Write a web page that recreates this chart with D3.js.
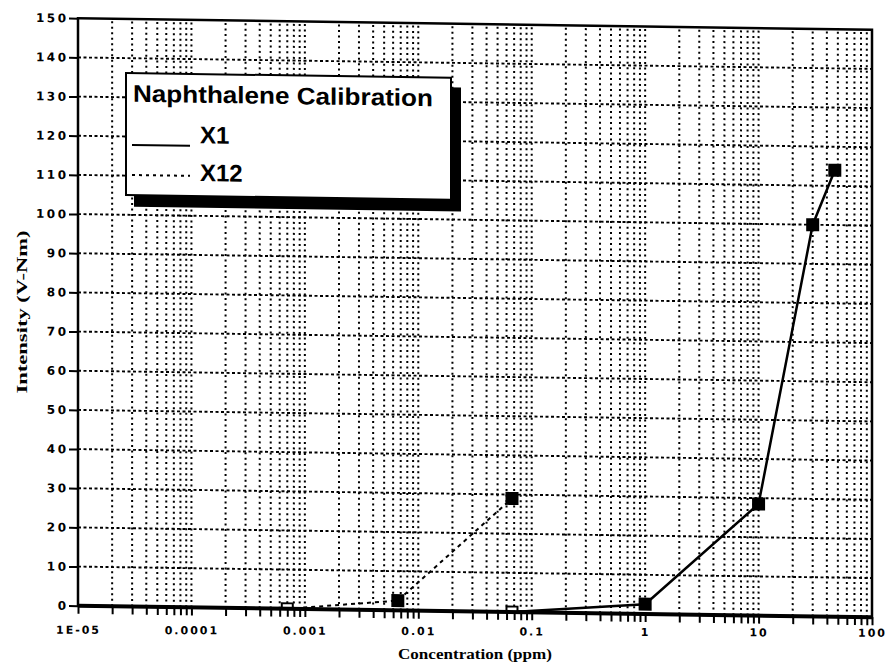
<!DOCTYPE html>
<html>
<head>
<meta charset="utf-8">
<script src="https://cdn.jsdelivr.net/npm/d3@7/dist/d3.min.js"></script>
<style>
  html, body { margin: 0; padding: 0; background: #fff; }
  svg { display: block; }
</style>
</head>
<body>
<svg id="chart" width="888" height="669"></svg>
<script>
// ---- data ----
const xDecades = [1e-5, 1e-4, 1e-3, 1e-2, 1e-1, 1, 10, 100];
const xTickLabels = ["1E-05", "0.0001", "0.001", "0.01", "0.1", "1", "10", "100"];
const yTicks = [0, 10, 20, 30, 40, 50, 60, 70, 80, 90, 100, 110, 120, 130, 140, 150];
const seriesNames = ["X1", "X12"];
const x1Conc = [0.067, 1, 10, 30, 47];
const x1Int = [0, 2.5, 28.5, 100, 114];
const x12Conc = [0.0007, 0.0066, 0.067];
const x12Int = [0, 2.5, 29];
const legendTitle = "Naphthalene Calibration";
const xTitle = "Concentration (ppm)";
const yTitle = "Intensity (V-Nm)";

// ---- layout ----
const L = 78, R = 872, T = 18.25, B = 605.75;
const k = 0.0145;      // scan skew of the plot frame
const k2 = 0.0038;     // skew of the x tick labels row

const svg = d3.select("#chart");
svg.append("rect").attr("width", 888).attr("height", 669).attr("fill", "#fff");

const x = d3.scaleLog().domain([xDecades[0], xDecades[xDecades.length - 1]]).range([L, R]);
const y = d3.scaleLinear().domain([yTicks[0], yTicks[yTicks.length - 1]]).range([B, T]);

svg.append("defs").append("clipPath").attr("id", "plotclip")
  .append("rect").attr("x", L - 10).attr("y", T - 10).attr("width", R - L + 20).attr("height", B - T + 10);

const g = svg.append("g").attr("transform", `matrix(1,${k},0,1,0,${-L * k})`);

// grid
const xt = x.ticks();
const xGrid = xt.filter(d => d > x.domain()[0] * 1.0001 && d < x.domain()[1] * 0.9999);
g.append("g").selectAll("line").data(xGrid).join("line")
  .attr("x1", d => x(d)).attr("x2", d => x(d))
  .attr("y1", y(0)).attr("y2", y(150))
  .attr("stroke", "#000").attr("stroke-width", 2)
  .attr("stroke-dasharray", "2,3.5");
g.append("g").selectAll("line").data(yTicks.slice(1, -1)).join("line")
  .attr("x1", L).attr("x2", R)
  .attr("y1", d => y(d)).attr("y2", d => y(d))
  .attr("stroke", "#000").attr("stroke-width", 1.9)
  .attr("stroke-dasharray", "3,2.5");

// series
const s1 = x1Conc.map((c, i) => ({ c, v: x1Int[i] }));
const s12 = x12Conc.map((c, i) => ({ c, v: x12Int[i] }));
const line = d3.line().x(d => x(d.c)).y(d => y(d.v));

g.append("path").datum(s12).attr("d", line)
  .attr("fill", "none").attr("stroke", "#000").attr("stroke-width", 2)
  .attr("stroke-dasharray", "4,4");
g.append("path").datum(s1).attr("d", line)
  .attr("fill", "none").attr("stroke", "#000").attr("stroke-width", 2.5);

const ms = 11;
g.append("g").attr("clip-path", "url(#plotclip)")
  .selectAll("rect").data(s1.concat(s12)).join("rect")
  .attr("x", d => x(d.c) - ms / 2).attr("y", d => y(d.v) - ms / 2)
  .attr("width", ms).attr("height", ms)
  .attr("fill", d => d.v === 0 ? "#fff" : "#000")
  .attr("stroke", "#000").attr("stroke-width", 2);

// axes ticks
g.append("g").attr("transform", `translate(0,${y(0)})`)
  .call(d3.axisBottom(x).tickValues(xt).tickSize(8).tickFormat(""))
  .call(a => a.select(".domain").remove())
  .call(a => a.selectAll("line").attr("stroke-width", 2));

g.append("g").attr("transform", `translate(${L},0)`)
  .call(d3.axisLeft(y).tickValues(yTicks).tickSize(9).tickPadding(3))
  .call(a => a.select(".domain").remove())
  .call(a => a.selectAll("line").attr("stroke-width", 2))
  .call(a => a.selectAll("text")
    .attr("font-family", "DejaVu Sans").attr("font-weight", "bold")
    .attr("font-size", 12).attr("letter-spacing", 2.5).attr("fill", "#000")
    .attr("dx", 2.5));

// frame
g.append("rect").attr("x", L).attr("y", T).attr("width", R - L).attr("height", B - T)
  .attr("fill", "none").attr("stroke", "#000").attr("stroke-width", 2.5);
g.append("line").attr("x1", L).attr("x2", R).attr("y1", y(0)).attr("y2", y(0))
  .attr("stroke", "#000").attr("stroke-width", 4);

// legend
const lg = g.append("g");
lg.append("rect").attr("x", 134).attr("y", 82).attr("width", 327).attr("height", 124).attr("fill", "#000");
lg.append("rect").attr("x", 126).attr("y", 72.3).attr("width", 325).attr("height", 122)
  .attr("fill", "#fff").attr("stroke", "#000").attr("stroke-width", 2);
lg.append("text").attr("x", 133).attr("y", 101).text(legendTitle)
  .attr("font-family", "Liberation Sans, Arial, sans-serif").attr("font-weight", "bold")
  .attr("font-size", 24).attr("textLength", 300).attr("lengthAdjust", "spacingAndGlyphs");
lg.append("line").attr("x1", 132).attr("x2", 190).attr("y1", 144.2).attr("y2", 144.2)
  .attr("stroke", "#000").attr("stroke-width", 2);
lg.append("line").attr("x1", 132).attr("x2", 190).attr("y1", 174.2).attr("y2", 174.2)
  .attr("stroke", "#000").attr("stroke-width", 2).attr("stroke-dasharray", "3,4");
lg.selectAll("text.s").data(seriesNames).join("text").attr("class", "s")
  .attr("x", 200).attr("y", (d, i) => 141.5 + i * 37.7).text(d => d)
  .attr("font-family", "Liberation Sans, Arial, sans-serif").attr("font-weight", "bold")
  .attr("font-size", 24);

// x tick labels
const gl = svg.append("g").attr("transform", `matrix(1,${k2},0,1,0,${-L * k2})`);
gl.append("g").attr("transform", "translate(0,626)")
  .call(d3.axisBottom(x).tickValues(xDecades).tickFormat((d, i) => xTickLabels[i]).tickSize(0).tickPadding(0))
  .call(a => a.select(".domain").remove())
  .call(a => a.selectAll("text")
    .attr("font-family", "DejaVu Sans").attr("font-weight", "bold")
    .attr("font-size", 11).attr("letter-spacing", 2).attr("fill", "#000"));

// titles
svg.append("text").attr("x", (L + R) / 2).attr("y", 659).attr("text-anchor", "middle")
  .text(xTitle)
  .attr("font-family", "Liberation Serif, serif").attr("font-weight", "bold")
  .attr("font-size", 15).attr("textLength", 154).attr("lengthAdjust", "spacingAndGlyphs");
svg.append("text").attr("transform", "translate(27,312) rotate(-90)")
  .attr("text-anchor", "middle")
  .text(yTitle)
  .attr("font-family", "Liberation Serif, serif").attr("font-weight", "bold")
  .attr("font-size", 15).attr("textLength", 163).attr("lengthAdjust", "spacingAndGlyphs");
</script>
</body>
</html>
